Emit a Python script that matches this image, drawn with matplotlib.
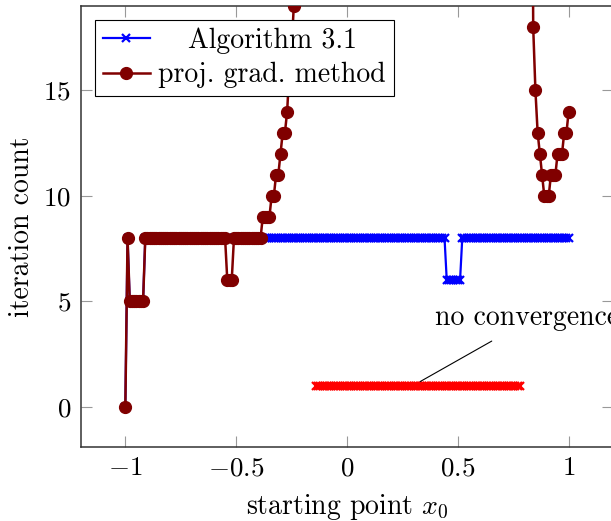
import numpy as np
import matplotlib
matplotlib.use("Agg")
import matplotlib.pyplot as plt
import matplotlib.transforms as mtransforms

plt.rcParams['font.family'] = 'serif'
plt.rcParams['font.serif'] = ['cmr10']
plt.rcParams['mathtext.fontset'] = 'cm'
plt.rcParams['axes.formatter.use_mathtext'] = True

# starting points x0 in [-1, 1], step 0.01
x0 = np.linspace(-1, 1, 201)

# iteration counts
OFF = 40  # above the visible range (points not readable)
alg31 = ([0, 8] + [5] * 7 + [8] * 136 + [6] * 7 + [8] * 49)
projgrad = ([0, 8] + [5] * 7 + [8] * 37 + [6] * 3 + [8] * 13 + [9] * 4
            + [10, 10, 11, 11, 12, 13, 13, 14, 16, 17, 19]
            + [OFF] * 9 + [np.nan] * 93 + [OFF] * 5
            + [18, 15, 13, 12, 11, 10, 10, 10, 11, 11, 11, 12, 12, 12, 13, 13, 14])
alg31 = np.array(alg31, dtype=float)
projgrad = np.array(projgrad, dtype=float)

# no convergence of proj. grad. method, marked at level 1
nc_level = 1
nc_x = x0[np.isnan(projgrad)]
nc_y = np.full(len(nc_x), nc_level)

FS = 20

fig = plt.figure(figsize=(6.11, 5.21), dpi=100)
ax = fig.add_axes([81 / 611, 74 / 521, 532 / 611, 441 / 521])

ax.plot(x0, alg31, color='blue', lw=1.6, marker='x', ms=6, mew=1.6,
        label='Algorithm 3.1', zorder=3)
ax.plot(x0, projgrad, color='#800000', lw=1.8, marker='o', ms=8.5,
        label='proj. grad. method', zorder=4)
ax.plot(nc_x, nc_y, color='red', lw=1.6, marker='x', ms=6, mew=1.6, zorder=5)

ax.annotate('', xy=(0.33, 1.2), xytext=(0.653, 3.12),
            arrowprops=dict(arrowstyle='-', lw=0.8, color='black',
                            shrinkA=0, shrinkB=0), zorder=6)
ax.text(0.395, 3.88, 'no convergence', fontsize=FS, ha='left', va='baseline',
        clip_on=False)

ax.set_xlim(-1.2, 1.2)
ax.set_ylim(-1.9, 19)
ax.set_xticks([-1, -0.5, 0, 0.5, 1],
              labels=['$-1$', '$-0.5$', '$0$', '$0.5$', '$1$'])
ax.set_yticks([0, 5, 10, 15], labels=['$0$', '$5$', '$10$', '$15$'])
ax.tick_params(direction='in', top=True, right=True, length=8, width=0.8,
               color='#999999', labelsize=19.5, pad=7)
for s in ax.spines.values():
    s.set_color('#333333')
    s.set_linewidth(1.1)

ax.set_xlabel('starting point $x_0$', fontsize=FS, labelpad=8)
ax.set_ylabel('iteration count', fontsize=FS, labelpad=6)

leg = ax.legend(loc='upper left', fontsize=FS, fancybox=False, framealpha=1,
                edgecolor='black', borderaxespad=0.5, handlelength=1.7,
                handletextpad=0.3, borderpad=0.28, labelspacing=0.28)
leg.get_frame().set_linewidth(0.8)
leg.set_zorder(10)

# centre the legend entries like pgfplots does
fig.canvas.draw()
r = fig.canvas.get_renderer()
texts = leg.get_texts()
ws = [t.get_window_extent(r).width for t in texts]
for t, w in zip(texts, ws):
    t.set_transform(t.get_transform()
                    + mtransforms.Affine2D().translate((max(ws) - w) / 2, 0))

fig.savefig('out.png', dpi=100)
